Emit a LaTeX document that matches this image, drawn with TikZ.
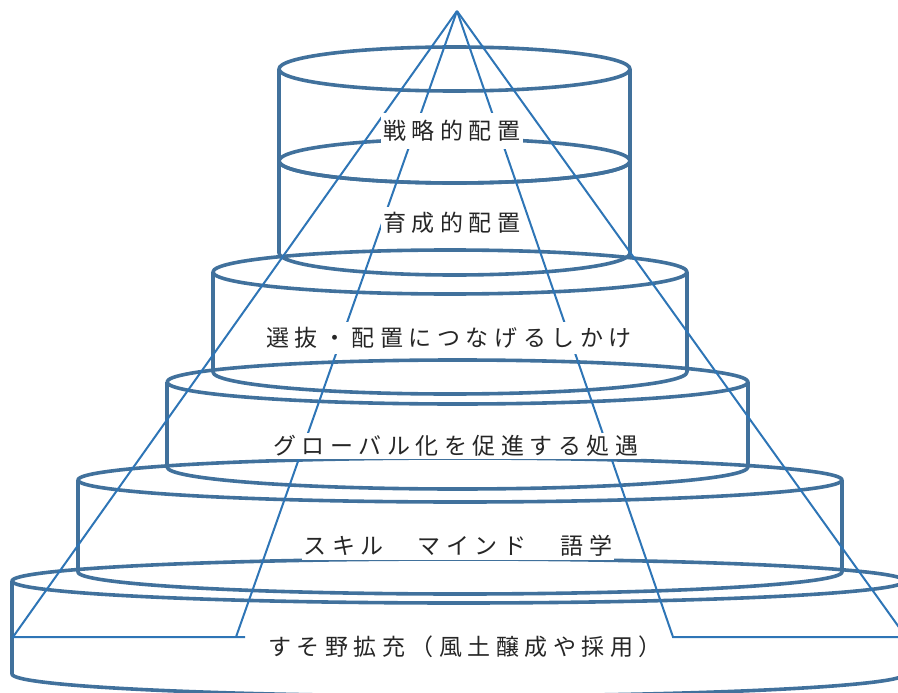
\documentclass[tikz,border=0pt]{standalone}
\usepackage{fontspec}
\newfontfamily\jpfont[LetterSpace=24]{Noto Sans CJK JP}
\definecolor{cylc}{HTML}{41719C}
\definecolor{rayc}{HTML}{2E75B6}
\tikzset{
  cylline/.style={draw=cylc, line width=3.6pt, line join=round},
  rayline/.style={draw=rayc, line width=2pt},
  lbl/.style={fill=white, inner xsep=2pt, inner ysep=0pt, text height=20pt, text depth=3pt,
    font=\jpfont\fontsize{23}{27}\selectfont, text=black!85},
}
\newcommand\mytier[4]{%
  \pgfmathsetmacro\cx{(#1+#2)/2}%
  \pgfmathsetmacro\rx{(#2-#1)/2}%
  \draw[cylline] (\cx,#3) ellipse[x radius=\rx pt, y radius=22pt];
  \draw[cylline] (#1,#3) -- (#1,#4) arc[start angle=180, end angle=360, x radius=\rx pt, y radius=22pt] -- (#2,#3);
}
\begin{document}
\begin{tikzpicture}[x=1pt,y=-1pt]
\useasboundingbox (0,0) rectangle (898,693);
\clip (0,0) rectangle (898,693);
% tiers
\mytier{279}{630}{69}{161}
\mytier{279}{630}{161}{253}
\mytier{213}{687}{272}{372}
\mytier{167}{748}{382}{467}
\mytier{78}{842}{480}{572}
\mytier{12}{905}{581}{674}
% rays
\coordinate (apex) at (457,11);
\coordinate (lo) at (13,637);
\coordinate (li) at (236,637);
\coordinate (lh) at (245,637);
\coordinate (ri) at (673,637);
\coordinate (ro) at (906,637);
\draw[rayline] (apex) -- (lo) -- (lh);
\draw[rayline] (apex) -- (li);
\draw[rayline] (apex) -- (ri) -- (ro);
\draw[rayline] (apex) -- (ro);
% labels
\node[lbl, minimum height=35pt] (t1) at (452,131) {戦略的配置};
\node[lbl, minimum height=32pt] (t2) at (452,223) {育成的配置};
\node[lbl, minimum height=32pt] (t3) at (449,338) {選抜・配置につなげるしかけ};
\node[lbl, minimum height=26pt] (t4) at (456,446) {グローバル化を促進する処遇};
\node[lbl, minimum height=29pt] (t5) at (458,545.5) {スキル　マインド　語学};
\node[lbl, minimum height=32pt] (t6) at (465,647) {すそ野拡充（風土醸成や採用）};
\end{tikzpicture}
\end{document}
